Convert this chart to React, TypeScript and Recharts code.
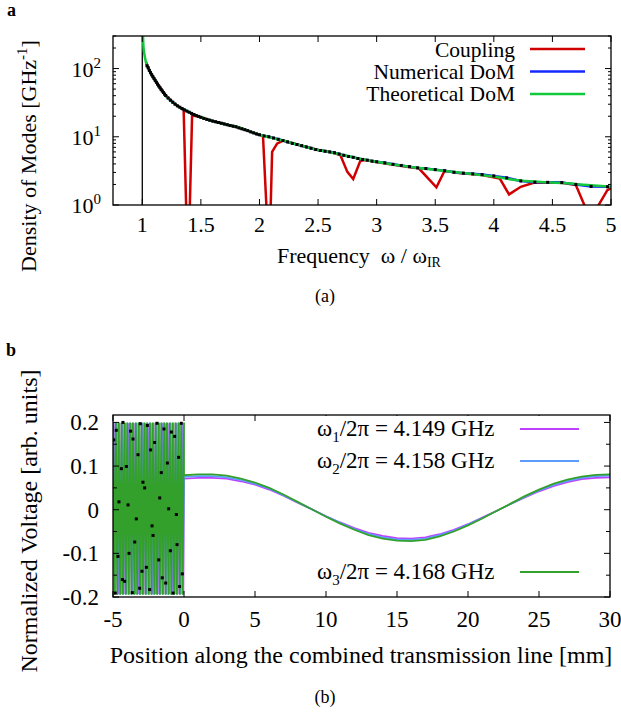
import React from "react";
import { ComposedChart, Line, Scatter, XAxis, YAxis, ReferenceLine } from "recharts";

const FONT = "'Liberation Serif', 'DejaVu Serif', serif";

// ---- panel a: density of modes ----
const theoryX = [1.003, 1.006, 1.01, 1.02, 1.03, 1.04, 1.06, 1.08, 1.1, 1.15, 1.2, 1.25, 1.3, 1.35, 1.4, 1.45, 1.5, 1.6, 1.7, 1.8, 1.9, 2.0, 2.1, 2.2, 2.3, 2.4, 2.5, 2.6, 2.7, 2.8, 2.9, 3.0, 3.2, 3.4, 3.6, 3.8, 4.0, 4.2, 4.4, 4.6, 4.8, 5.0];
const theoryY = [340, 295, 210, 155, 127, 112, 93, 81, 71.5, 52.5, 40.2, 33, 28.4, 25.3, 22.9, 20.9, 19.3, 17, 15.4, 14, 12.3, 10.7, 9.7, 8.8, 7.9, 7.1, 6.4, 6.0, 5.45, 5.0, 4.6, 4.3, 3.8, 3.42, 3.12, 2.86, 2.62, 2.3, 2.18, 2.1, 1.96, 1.85];

const numX = [1.04, 1.05, 1.06, 1.07, 1.08, 1.09, 1.1, 1.11, 1.12, 1.13, 1.14, 1.15, 1.16, 1.17, 1.18, 1.19, 1.2, 1.22, 1.24, 1.26, 1.28, 1.3, 1.32, 1.34, 1.36, 1.38, 1.4, 1.42, 1.44, 1.46, 1.48, 1.5, 1.525, 1.55, 1.575, 1.6, 1.625, 1.65, 1.675, 1.7, 1.725, 1.75, 1.775, 1.8, 1.825, 1.85, 1.875, 1.9, 1.925, 1.95, 1.975, 2.0, 2.04, 2.08, 2.12, 2.16, 2.2, 2.24, 2.28, 2.32, 2.36, 2.4, 2.44, 2.48, 2.52, 2.56, 2.6, 2.64, 2.68, 2.72, 2.76, 2.8, 2.84, 2.88, 2.92, 2.96, 3.0, 3.07, 3.14, 3.21, 3.28, 3.35, 3.42, 3.5, 3.58, 3.66, 3.74, 3.82, 3.9, 4.0, 4.11, 4.23, 4.35, 4.46, 4.58, 4.7, 4.83, 4.97];
const numY = [110, 103, 94, 87, 81, 76, 71.5, 67, 63, 59, 55.5, 52.5, 49.5, 47, 44.5, 42.2, 40.2, 37, 34.3, 32, 30, 28.4, 27.1, 25.9, 24.8, 23.8, 22.9, 22, 21.2, 20.5, 19.9, 19.3, 18.6, 18, 17.5, 17, 16.6, 16.2, 15.8, 15.4, 15, 14.6, 14.3, 14.0, 13.5, 13.1, 12.7, 12.3, 11.8, 11.4, 11.0, 10.7, 10.3, 10, 9.6, 9.2, 8.8, 8.4, 8.0, 7.7, 7.4, 7.1, 6.8, 6.5, 6.3, 6.15, 6.0, 5.85, 5.6, 5.35, 5.15, 5.0, 4.8, 4.65, 4.55, 4.4, 4.3, 4.15, 3.95, 3.8, 3.65, 3.5, 3.42, 3.3, 3.18, 3.02, 2.93, 2.86, 2.79, 2.67, 2.5, 2.25, 2.16, 2.15, 2.13, 2.0, 1.87, 1.85];

const couplingX = [1.03, 1.05, 1.1, 1.2, 1.3, 1.353, 1.38, 1.4, 1.425, 1.5, 1.6, 1.7, 1.8, 1.9, 2.0, 2.03, 2.07, 2.09, 2.108, 2.15, 2.2, 2.3, 2.4, 2.5, 2.6, 2.69, 2.75, 2.8, 2.86, 2.9, 3.0, 3.1, 3.2, 3.3, 3.36, 3.51, 3.58, 3.7, 3.8, 3.9, 4.05, 4.13, 4.23, 4.34, 4.46, 4.58, 4.7, 4.79, 4.87, 4.97, 5.0];
const couplingY = [127, 103, 71.5, 40.2, 28.4, 24.4, 0.4, 0.4, 20.6, 19.3, 17, 15.4, 14, 12.3, 10.7, 10.3, 0.4, 0.4, 6.0, 7.95, 8.8, 7.9, 7.1, 6.4, 6.0, 5.4, 3.06, 2.4, 4.4, 4.55, 4.25, 4.0, 3.75, 3.55, 3.45, 1.81, 3.17, 2.95, 2.85, 2.75, 2.45, 1.43, 1.85, 2.12, 2.14, 2.12, 1.96, 0.85, 0.85, 1.66, 1.75];

const freqTicks = [1, 1.5, 2, 2.5, 3, 3.5, 4, 4.5, 5];
const dosTicks = [1, 2, 3, 4, 5, 6, 7, 8, 9, 10, 20, 30, 40, 50, 60, 70, 80, 90, 100, 200, 300];
const dosMajor = [1, 10, 100];

// ---- panel b: normalized voltage ----
const oscGreenX = [-5, -4.9, -4.8, -4.7, -4.6, -4.5, -4.4, -4.3, -4.2, -4.1, -4, -3.9, -3.8, -3.7, -3.6, -3.5, -3.4, -3.3, -3.2, -3.1, -3, -2.9, -2.8, -2.7, -2.6, -2.5, -2.4, -2.3, -2.2, -2.1, -2, -1.9, -1.8, -1.7, -1.6, -1.5, -1.4, -1.3, -1.2, -1.1, -1, -0.9, -0.8, -0.7, -0.6, -0.5, -0.4, -0.3, -0.2, -0.1, 0];
const oscGreenY = [0.2, -0.195, 0.2, -0.195, 0.2, -0.195, 0.2, -0.195, 0.2, -0.195, 0.2, -0.195, 0.2, -0.195, 0.2, -0.195, 0.2, -0.195, 0.2, -0.195, 0.2, -0.195, 0.2, -0.195, 0.2, -0.195, 0.2, -0.195, 0.2, -0.195, 0.2, -0.195, 0.2, -0.195, 0.2, -0.195, 0.2, -0.195, 0.2, -0.195, 0.2, -0.195, 0.2, -0.195, 0.2, -0.195, 0.2, -0.195, 0.2, -0.195, 0.2];
const oscBlueX = [-4.97, -4.87, -4.77, -4.67, -4.57, -4.47, -4.37, -4.27, -4.17, -4.07, -3.97, -3.87, -3.77, -3.67, -3.57, -3.47, -3.37, -3.27, -3.17, -3.07, -2.97, -2.87, -2.77, -2.67, -2.57, -2.47, -2.37, -2.27, -2.17, -2.07, -1.97, -1.87, -1.77, -1.67, -1.57, -1.47, -1.37, -1.27, -1.17, -1.07, -0.97, -0.87, -0.77, -0.67, -0.57, -0.47, -0.37, -0.27, -0.17, -0.07];
const oscBlueY = [0.199, -0.194, 0.199, -0.194, 0.199, -0.194, 0.199, -0.194, 0.199, -0.194, 0.199, -0.194, 0.199, -0.194, 0.199, -0.194, 0.199, -0.194, 0.199, -0.194, 0.199, -0.194, 0.199, -0.194, 0.199, -0.194, 0.199, -0.194, 0.199, -0.194, 0.199, -0.194, 0.199, -0.194, 0.199, -0.194, 0.199, -0.194, 0.199, -0.194, 0.199, -0.194, 0.199, -0.194, 0.199, -0.194, 0.199, -0.194, 0.199, -0.194];
const oscPurpleX = [-4.94, -4.84, -4.74, -4.64, -4.54, -4.44, -4.34, -4.24, -4.14, -4.04, -3.94, -3.84, -3.74, -3.64, -3.54, -3.44, -3.34, -3.24, -3.14, -3.04, -2.94, -2.84, -2.74, -2.64, -2.54, -2.44, -2.34, -2.24, -2.14, -2.04, -1.94, -1.84, -1.74, -1.64, -1.54, -1.44, -1.34, -1.24, -1.14, -1.04, -0.94, -0.84, -0.74, -0.64, -0.54, -0.44, -0.34, -0.24, -0.14, -0.04];
const oscPurpleY = [0.198, -0.193, 0.198, -0.193, 0.198, -0.193, 0.198, -0.193, 0.198, -0.193, 0.198, -0.193, 0.198, -0.193, 0.198, -0.193, 0.198, -0.193, 0.198, -0.193, 0.198, -0.193, 0.198, -0.193, 0.198, -0.193, 0.198, -0.193, 0.198, -0.193, 0.198, -0.193, 0.198, -0.193, 0.198, -0.193, 0.198, -0.193, 0.198, -0.193, 0.198, -0.193, 0.198, -0.193, 0.198, -0.193, 0.198, -0.193, 0.198, -0.193];

const lineX = [0, 1, 2, 3, 4, 5, 6, 7, 8, 9, 10, 11, 12, 13, 14, 15, 16, 17, 18, 19, 20, 21, 22, 23, 24, 25, 26, 27, 28, 29, 30];
const greenY = [0.079, 0.081, 0.081, 0.078, 0.071, 0.062, 0.05, 0.035, 0.018, 0.001, -0.016, -0.032, -0.046, -0.058, -0.066, -0.071, -0.072, -0.069, -0.061, -0.05, -0.036, -0.02, -0.003, 0.014, 0.031, 0.046, 0.059, 0.069, 0.076, 0.08, 0.081];
const blueY = [0.075, 0.077, 0.077, 0.074, 0.068, 0.059, 0.048, 0.033, 0.017, 0.001, -0.015, -0.03, -0.044, -0.055, -0.063, -0.068, -0.069, -0.066, -0.058, -0.048, -0.034, -0.019, -0.003, 0.013, 0.029, 0.044, 0.056, 0.066, 0.073, 0.077, 0.078];
const purpleY = [0.071, 0.073, 0.073, 0.071, 0.065, 0.057, 0.046, 0.032, 0.016, 0.001, -0.015, -0.029, -0.042, -0.053, -0.06, -0.065, -0.066, -0.063, -0.056, -0.046, -0.033, -0.018, -0.003, 0.013, 0.028, 0.042, 0.054, 0.063, 0.07, 0.073, 0.074];

const dotX = [-4.95, -4.84, -4.77, -4.65, -4.58, -4.41, -4.34, -4.3, -4.18, -4.06, -3.94, -3.87, -3.76, -3.64, -3.59, -3.47, -3.36, -3.24, -3.12, -3.08, -2.96, -2.89, -2.77, -2.65, -2.58, -2.42, -2.35, -2.25, -2.18, -2.07, -1.9, -1.78, -1.71, -1.6, -1.53, -1.41, -1.29, -1.17, -1.08, -0.96, -0.89, -0.77, -0.66, -0.54, -0.49, -0.38, -0.31, -0.19, -0.12];
const dotY = [0.16, -0.191, 0.182, -0.107, 0.018, 0.094, -0.16, 0.2, -0.164, 0.099, 0.011, -0.1, 0.18, -0.19, 0.162, -0.074, -0.021, 0.126, -0.18, 0.197, -0.141, 0.063, 0.05, -0.132, 0.193, -0.183, 0.137, -0.037, -0.059, 0.154, 0.198, -0.115, 0.027, 0.085, -0.156, 0.185, -0.168, 0.107, 0.002, -0.094, 0.178, -0.191, 0.168, -0.011, -0.08, 0.12, -0.176, 0.198, -0.147];

const posTicks = [-5, 0, 5, 10, 15, 20, 25, 30];
const voltTicks = [-0.2, -0.15, -0.1, -0.05, 0, 0.05, 0.1, 0.15, 0.2];
const voltLabels = ["-0.2", "", "-0.1", "", "0", "", "0.1", "", "0.2"];

const legendA = ["Coupling", "Numerical DoM", "Theoretical DoM"];
const legendB = [
  { sub: "1", val: "4.149" },
  { sub: "2", val: "4.158" },
  { sub: "3", val: "4.168" },
];

const RED = "#d00000";
const BLUE = "#1428ff";
const GREEN = "#14c83c";
const PURPLE_B = "#c040ff";
const BLUE_B = "#5a9cff";
const GREEN_B = "#33a02c";

const W = 621;
const H1 = 300;
const H2 = 383;
const TOP2 = 330;
const P1 = { left: 113, top: 36, right: 611, bottom: 205 };
const P2 = { left: 113, top: 415, right: 610, bottom: 597 };

const zip = (xs: number[], ys: number[]) => xs.map((x, i) => ({ x, y: ys[i] }));

const theoryData = zip(theoryX, theoryY);
const numData = zip(numX, numY);
const couplingData = zip(couplingX, couplingY);
const greenData = [...zip(oscGreenX, oscGreenY), ...zip(lineX, greenY)];
const blueData = [...zip(oscBlueX, oscBlueY), ...zip(lineX, blueY)];
const purpleData = [...zip(oscPurpleX, oscPurpleY), ...zip(lineX, purpleY)];
const dotData = zip(dotX, dotY);

function makeXTick(plotTop: number, fontSize: number, dy: number) {
  return (props: any) => {
    const { x, y, payload } = props;
    return (
      <g>
        <line x1={x} x2={x} y1={y} y2={y - 6} stroke="#000" />
        <line x1={x} x2={x} y1={plotTop} y2={plotTop + 6} stroke="#000" />
        <text x={x} y={y + dy} textAnchor="middle" fontFamily={FONT} fontSize={fontSize} fill="#000">
          {String(payload.value)}
        </text>
      </g>
    );
  };
}

function LogTick(props: any) {
  const { x, y, payload } = props;
  const v = payload.value;
  const major = dosMajor.includes(v);
  const len = major ? 6 : 3;
  return (
    <g>
      <line x1={x} x2={x + len} y1={y} y2={y} stroke="#000" />
      <line x1={P1.right} x2={P1.right - len} y1={y} y2={y} stroke="#000" />
      {major && (
        <text x={x - 12} y={y + 8} textAnchor="end" fontFamily={FONT} fontSize={22} fill="#000">
          10
          <tspan dy={-9} fontSize={15}>
            {String(Math.round(Math.log10(v)))}
          </tspan>
        </text>
      )}
    </g>
  );
}

function VoltTick(props: any) {
  const { x, y, index } = props;
  const label = voltLabels[index];
  const len = label ? 6 : 4;
  return (
    <g>
      <line x1={x} x2={x + len} y1={y} y2={y} stroke="#000" />
      <line x1={P2.right} x2={P2.right - len} y1={y} y2={y} stroke="#000" />
      {label && (
        <text x={x - 14} y={y + 8} textAnchor="end" fontFamily={FONT} fontSize={23} fill="#000">
          {label}
        </text>
      )}
    </g>
  );
}

function DotShape(props: any) {
  const { cx, cy } = props;
  if (cx == null || cy == null) return null;
  return <rect x={cx - 1.5} y={cy - 1.5} width={3} height={3} fill="#000" />;
}

export default function App() {
  const aColors = [RED, BLUE, GREEN];
  const bColors = [PURPLE_B, BLUE_B, GREEN_B];
  const bLegendY = [436, 468, 579];
  return (
    <div style={{ position: "absolute", left: 0, top: 0, width: W, height: 713, background: "#fff" }}>
      <div style={{ position: "absolute", left: 0, top: 0 }}>
        <ComposedChart
          width={W}
          height={H1}
          margin={{ top: P1.top, left: P1.left - 60, right: W - P1.right, bottom: H1 - P1.bottom - 30 }}
        >
          <XAxis
            type="number"
            dataKey="x"
            domain={[0.75, 5]}
            ticks={freqTicks}
            interval={0}
            allowDataOverflow
            axisLine={false}
            tickLine={false}
            tickSize={0}
            tickMargin={0}
            height={30}
            tick={makeXTick(P1.top, 22, 27)}
          />
          <YAxis
            type="number"
            scale="log"
            domain={[1, 300]}
            ticks={dosTicks}
            interval={0}
            allowDataOverflow
            axisLine={false}
            tickLine={false}
            tickSize={0}
            tickMargin={0}
            width={60}
            tick={LogTick}
          />
          <ReferenceLine x={1} stroke="#000" strokeWidth={1.3} />
          <Line data={couplingData} dataKey="y" stroke={RED} strokeWidth={2.5} dot={false} isAnimationActive={false} type="linear" />
          <Line data={numData} dataKey="y" stroke={BLUE} strokeWidth={2.5} dot={false} isAnimationActive={false} type="linear" />
          <Line data={theoryData} dataKey="y" stroke={GREEN} strokeWidth={2.5} dot={false} isAnimationActive={false} type="monotone" />
          <Scatter data={numData} dataKey="y" fill="#000" shape={DotShape} isAnimationActive={false} />
        </ComposedChart>
      </div>
      <div style={{ position: "absolute", left: 0, top: TOP2 }}>
        <ComposedChart
          width={W}
          height={H2}
          margin={{ top: P2.top - TOP2, left: P2.left - 60, right: W - P2.right, bottom: H2 - (P2.bottom - TOP2) - 30 }}
        >
          <XAxis
            type="number"
            dataKey="x"
            domain={[-5, 30]}
            ticks={posTicks}
            interval={0}
            allowDataOverflow
            axisLine={false}
            tickLine={false}
            tickSize={0}
            tickMargin={0}
            height={30}
            tick={makeXTick(P2.top - TOP2, 23, 30)}
          />
          <YAxis
            type="number"
            domain={[-0.2, 0.217]}
            ticks={voltTicks}
            interval={0}
            allowDataOverflow
            axisLine={false}
            tickLine={false}
            tickSize={0}
            tickMargin={0}
            width={60}
            tick={VoltTick}
          />
          <Line data={purpleData} dataKey="y" stroke={PURPLE_B} strokeWidth={1.6} dot={false} isAnimationActive={false} type="linear" />
          <Line data={blueData} dataKey="y" stroke={BLUE_B} strokeWidth={1.6} dot={false} isAnimationActive={false} type="linear" />
          <Line data={greenData} dataKey="y" stroke={GREEN_B} strokeWidth={1.8} dot={false} isAnimationActive={false} type="linear" />
          <Scatter data={dotData} dataKey="y" fill="#000" shape={DotShape} isAnimationActive={false} />
        </ComposedChart>
      </div>
      <svg
        width={W}
        height={713}
        style={{ position: "absolute", left: 0, top: 0, pointerEvents: "none" }}
        fontFamily={FONT}
      >
        <rect x={P1.left} y={P1.top} width={P1.right - P1.left} height={P1.bottom - P1.top} fill="none" stroke="#000" strokeWidth={1.3} />
        <rect x={P2.left} y={P2.top} width={P2.right - P2.left} height={P2.bottom - P2.top} fill="none" stroke="#000" strokeWidth={1.3} />

        <text x={7} y={16} fontSize={18} fontWeight="bold">a</text>
        <text x={6} y={356} fontSize={18} fontWeight="bold">b</text>

        <text transform="translate(36,156) rotate(-90)" textAnchor="middle" fontSize={22}>
          Density of Modes [GHz
          <tspan dy={-9} fontSize={15}>-1</tspan>
          <tspan dy={9}>]</tspan>
        </text>
        <text x={277} y={263} fontSize={22} xmlSpace="preserve">
          {"Frequency  ω / ω"}
          <tspan dy={4} fontSize={14}>IR</tspan>
        </text>
        <text x={325} y={302} textAnchor="middle" fontSize={18}>(a)</text>

        {legendA.map((name, i) => (
          <g key={name}>
            <text x={515} y={57 + i * 22} textAnchor="end" fontSize={21.5}>{name}</text>
            <line x1={530} x2={585} y1={49 + i * 22.5} y2={49 + i * 22.5} stroke={aColors[i]} strokeWidth={2.5} />
          </g>
        ))}

        <text transform="translate(37,521) rotate(-90)" textAnchor="middle" fontSize={24}>
          Normalized Voltage [arb. units]
        </text>
        <text x={361} y={663} textAnchor="middle" fontSize={24}>
          Position along the combined transmission line [mm]
        </text>
        <text x={325} y={703} textAnchor="middle" fontSize={18}>(b)</text>

        {legendB.map((e, i) => (
          <g key={e.sub}>
            <rect x={312} y={bLegendY[i] - 20} width={275} height={27} fill="#fff" />
            <text x={317} y={bLegendY[i]} fontSize={23}>
              ω
              <tspan dy={6} fontSize={15}>{e.sub}</tspan>
              <tspan dy={-6}>{`/2π = ${e.val} GHz`}</tspan>
            </text>
            <line x1={520} x2={579} y1={bLegendY[i] - 7} y2={bLegendY[i] - 7} stroke={bColors[i]} strokeWidth={2} />
          </g>
        ))}
      </svg>
    </div>
  );
}
